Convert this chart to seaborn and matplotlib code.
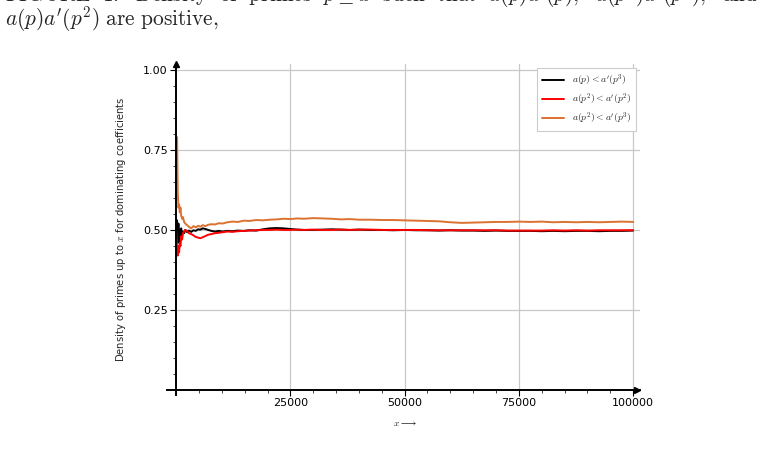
import matplotlib
matplotlib.use('Agg')
import matplotlib.pyplot as plt
import seaborn as sns
from matplotlib.ticker import MultipleLocator, FixedLocator, FormatStrFormatter

sns.set_style('white')
plt.rcParams['font.family'] = ['DejaVu Sans']
plt.rcParams['mathtext.fontset'] = 'cm'

# x positions (primes up to x)
x_vals = [0, 200, 350, 500, 650, 800, 950, 1100, 1300,
          1500, 1750, 2000, 2400, 2800,
          3300, 3800, 4300, 4800, 5300,
          5800, 6400, 7000, 7700, 8500,
          9300, 10200, 11200, 12300, 13500,
          14800, 16000, 17500, 19000, 20500,
          22000, 23500, 25000, 26500, 28000,
          30000, 32000, 34000, 36000, 38000,
          40000, 42500, 45000, 47500, 50000,
          52500, 55000, 57500, 60000, 62500,
          65000, 67500, 70000, 72500, 75000,
          77500, 80000, 82500, 85000, 87500,
          90000, 92500, 95000, 97500, 100000]

# a(p) < a'(p^3)
black_vals = [0.50, 0.53, 0.46, 0.52, 0.46, 0.50, 0.48, 0.505, 0.485,
              0.495, 0.49, 0.50, 0.493, 0.498,
              0.494, 0.499, 0.497, 0.502, 0.501,
              0.505, 0.503, 0.50, 0.497, 0.495,
              0.497, 0.495, 0.497, 0.496, 0.498,
              0.497, 0.499, 0.498, 0.502, 0.505,
              0.506, 0.505, 0.503, 0.501, 0.50,
              0.50, 0.501, 0.502, 0.501, 0.50,
              0.501, 0.50, 0.50, 0.499, 0.50,
              0.499, 0.499, 0.498, 0.499, 0.498,
              0.498, 0.497, 0.498, 0.497, 0.497,
              0.497, 0.496, 0.497, 0.496, 0.497,
              0.497, 0.496, 0.497, 0.497, 0.498]

# a(p^2) < a'(p^2)
red_vals = [0.50, 0.44, 0.42, 0.45, 0.43, 0.46, 0.45, 0.48, 0.47,
            0.49, 0.495, 0.50, 0.497, 0.49,
            0.487, 0.483, 0.478, 0.476, 0.474,
            0.477, 0.481, 0.485, 0.487, 0.49,
            0.491, 0.493, 0.495, 0.494, 0.496,
            0.497, 0.498, 0.499, 0.50, 0.50,
            0.501, 0.50, 0.50, 0.501, 0.50,
            0.501, 0.50, 0.50, 0.501, 0.50,
            0.501, 0.501, 0.50, 0.50, 0.50,
            0.50, 0.499, 0.499, 0.499, 0.499,
            0.499, 0.499, 0.499, 0.498, 0.498,
            0.498, 0.498, 0.499, 0.498, 0.499,
            0.498, 0.499, 0.499, 0.499, 0.499]

# a(p^2) < a'(p^3)
orange_vals = [0.60, 0.79, 0.62, 0.57, 0.58, 0.555, 0.57, 0.545, 0.535,
               0.54, 0.525, 0.52, 0.515, 0.51,
               0.505, 0.512, 0.508, 0.513, 0.51,
               0.515, 0.512, 0.516, 0.518, 0.517,
               0.521, 0.52, 0.524, 0.526, 0.525,
               0.529, 0.528, 0.531, 0.53, 0.532,
               0.533, 0.535, 0.534, 0.536, 0.535,
               0.537, 0.536, 0.535, 0.533, 0.534,
               0.532, 0.532, 0.531, 0.531, 0.53,
               0.529, 0.528, 0.527, 0.524, 0.522,
               0.523, 0.524, 0.525, 0.525, 0.526,
               0.525, 0.526, 0.524, 0.525, 0.524,
               0.525, 0.524, 0.525, 0.526, 0.525]

series = [
    (black_vals, 'black', r"$a(p) < a'(p^3)$"),
    (red_vals, '#ff0000', r"$a(p^2) < a'(p^2)$"),
    (orange_vals, '#dd7230', r"$a(p^2) < a'(p^3)$"),
]

x_ticks = [25000, 50000, 75000, 100000]
y_ticks = [0.25, 0.50, 0.75, 1.00]

fig = plt.figure(figsize=(7.71, 4.62), dpi=100)
ax = fig.add_axes([167 / 771, 1 - 395 / 462, 473 / 771, 331.4 / 462])

for vals, col, lab in series:
    sns.lineplot(x=x_vals, y=vals, color=col, label=lab, ax=ax,
                 linewidth=1.4, estimator=None, sort=False)

ax.set_xlim(-2000, 101500)
ax.set_ylim(-0.016, 1.02)

# grid lines (drawn by hand so they start at the axes)
grid_col = '#c8c8c8'
for yv in y_ticks:
    ax.axhline(yv, xmin=9 / 473, xmax=1, color=grid_col, lw=0.9, zorder=0)
for xv in x_ticks:
    ax.axvline(xv, ymin=5 / 331.4, ymax=1, color=grid_col, lw=0.9, zorder=0)

# sage-like axes through the origin
for s in ['top', 'right']:
    ax.spines[s].set_visible(False)
ax.spines['left'].set_position(('data', 0))
ax.spines['bottom'].set_position(('data', 0))
for s in ['left', 'bottom']:
    ax.spines[s].set_linewidth(1.4)
    ax.spines[s].set_color('black')
ax.plot(0.994, 0, marker='>', color='black', markersize=5,
        transform=ax.get_yaxis_transform(), clip_on=False)
ax.plot(0, 0.998, marker='^', color='black', markersize=5,
        transform=ax.get_xaxis_transform(), clip_on=False)

ax.xaxis.set_major_locator(FixedLocator(x_ticks))
ax.xaxis.set_minor_locator(MultipleLocator(5000))
ax.yaxis.set_major_locator(FixedLocator(y_ticks))
ax.yaxis.set_minor_locator(MultipleLocator(0.05))
ax.yaxis.set_major_formatter(FormatStrFormatter('%.2f'))
ax.tick_params(which='major', direction='out', length=4, width=0.8,
               labelsize=8, colors='black', pad=2)
ax.tick_params(which='minor', direction='out', length=2, width=0.6)
ax.tick_params(left=True, bottom=True, which='both')

ax.set_ylabel(r'Density of primes up to $x$ for dominating coefficients', fontsize=7.2)
ax.yaxis.set_label_coords(-0.082, 0.5)
ax.set_xlabel(r'$x \longrightarrow$', fontsize=7)
ax.xaxis.set_label_coords(0.503, -0.07)

leg = ax.legend(loc='upper right', bbox_to_anchor=(0.992, 0.988), borderaxespad=0,
                fontsize=7, handlelength=2.3, fancybox=False, framealpha=1,
                edgecolor='#cccccc', borderpad=0.5, labelspacing=0.35)
leg.get_frame().set_linewidth(0.8)

# cut-off caption text of the page
fig.text(0.007, 1 - 1 / 462,
         r"$\mathrm{FIGURE\ \ 1.\ \ Density\ \ of\ \ primes}\ \ p \leq x\ \ \mathrm{such\ \ that}\ \ a(p)a'(p),\ \ a(p^2)a'(p^2),\ \ \mathrm{and}$",
         fontsize=15.4, va='baseline', ha='left')
fig.text(0.007, 1 - 26 / 462, r"$a(p)a'(p^2)\ \mathrm{are\ positive,}$",
         fontsize=15.4, va='baseline', ha='left')

fig.savefig('out.png', dpi=100)
